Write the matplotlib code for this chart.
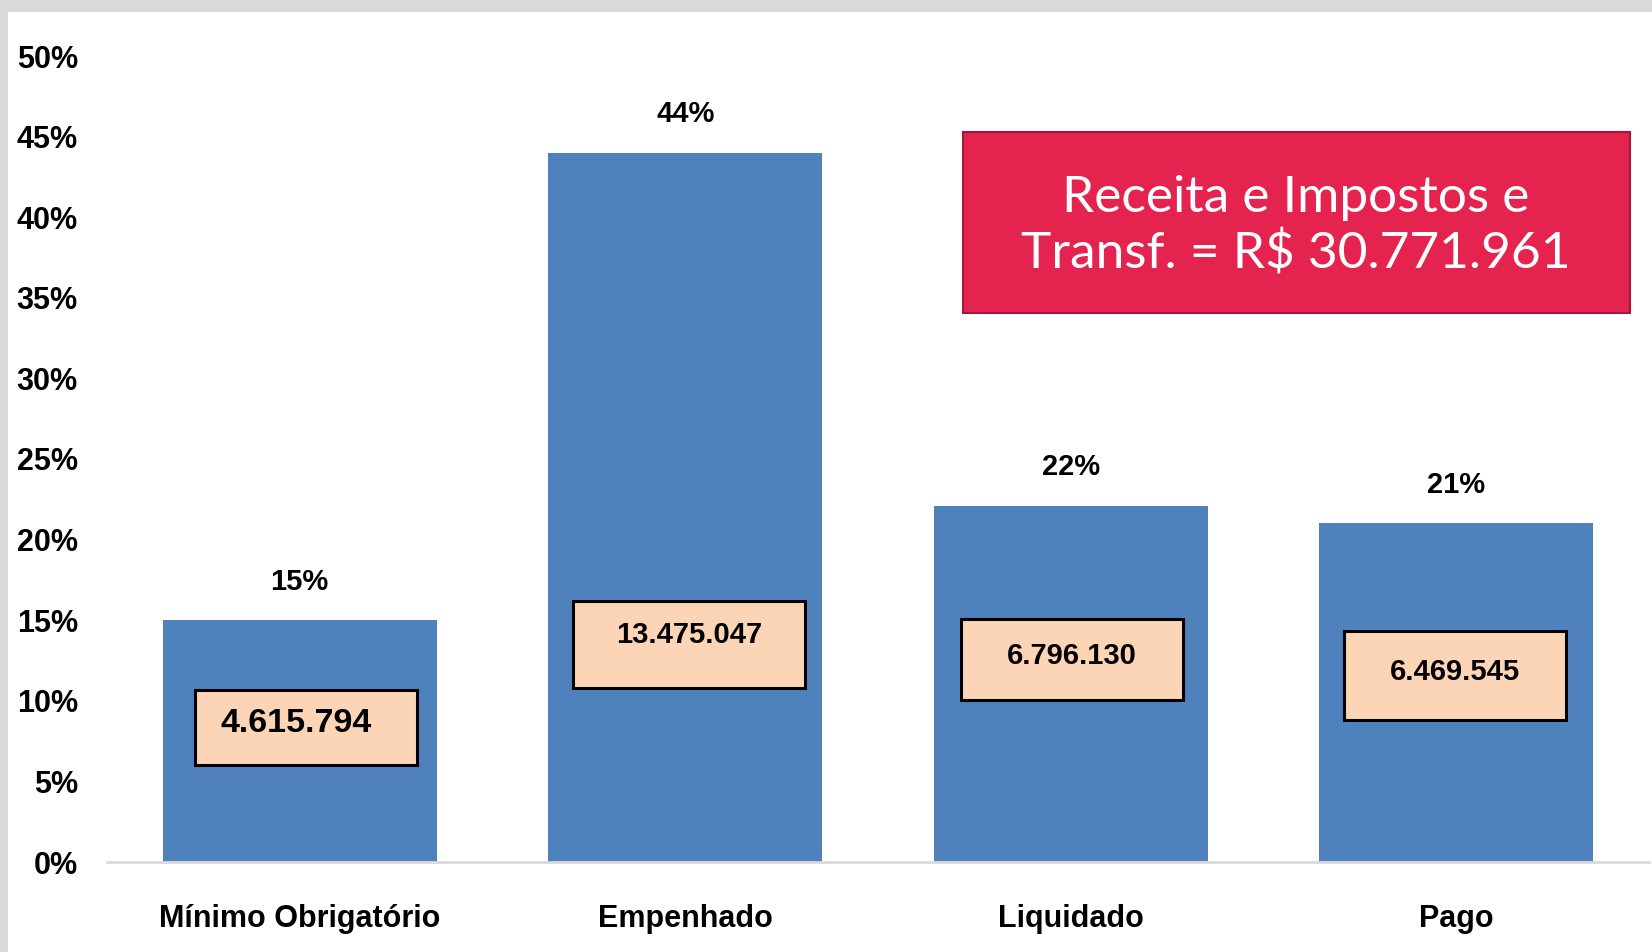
import matplotlib
matplotlib.use("Agg")
import matplotlib.pyplot as plt
from matplotlib.patches import Rectangle
from matplotlib.font_manager import fontManager

# ---- data ----
categories = ["Mínimo Obrigatório", "Empenhado", "Liquidado", "Pago"]
percent = [15.0, 44.0, 22.1, 21.0]
percent_labels = ["15%", "44%", "22%", "21%"]
amount_labels = ["4.615.794", "13.475.047", "6.796.130", "6.469.545"]
y_ticks = [0, 5, 10, 15, 20, 25, 30, 35, 40, 45, 50]
y_tick_labels = ["0%", "5%", "10%", "15%", "20%", "25%", "30%", "35%", "40%", "45%", "50%"]
note_text = "Receita e Impostos e\nTransf. = R$ 30.771.961"

# ---- fonts ----
names = {f.name for f in fontManager.ttflist}
has_narrow = "Liberation Sans Narrow" in names
narrow = ["Liberation Sans Narrow", "DejaVu Sans"] if has_narrow else ["Liberation Sans", "DejaVu Sans"]
k = 1.2 if has_narrow else 1.0   # narrower font can be taller
regular_bold = ["Liberation Sans", "DejaVu Sans"]
light = ["Lato", "Open Sans", "DejaVu Sans"]

W, H = 1652, 952
fig = plt.figure(figsize=(W / 100, H / 100), dpi=100, facecolor="#D9D9D9")
fig.patches.append(Rectangle((8 / W, 0), 1, 1 - 12 / H, transform=fig.transFigure,
                             facecolor="white", edgecolor="none", zorder=-5))

ax = fig.add_axes([107 / W, 1 - 862 / H, (1649 - 107) / W, (862 - 56) / H])
ax.set_facecolor("none")
ax.set_zorder(1)

x = list(range(len(categories)))
ax.bar(x, percent, width=0.71, color="#4F81BD", zorder=2)

ax.set_xlim(-0.5, len(categories) - 0.5)
ax.set_ylim(0, 50)
ax.set_yticks(y_ticks)
ax.set_yticklabels(y_tick_labels, family=narrow, fontweight="bold", fontsize=22 * k)
ax.set_xticks(x)
ax.set_xticklabels(categories, family=narrow, fontweight="bold", fontsize=22 * k)
ax.tick_params(axis="y", length=0, pad=21)
ax.tick_params(axis="x", length=0, pad=30)
for s in ["left", "right", "top"]:
    ax.spines[s].set_visible(False)
ax.spines["bottom"].set_color("#D9D9D9")
ax.spines["bottom"].set_linewidth(2)
ax.spines["bottom"].set_zorder(3)

# percentage labels above bars
for xi, v, lab in zip(x, percent, percent_labels):
    ax.text(xi, v + 2.4, lab, ha="center", va="center", family=narrow,
            fontweight="bold", fontsize=21 * k, zorder=4)

# amount boxes (layout)
box_cy = [8.35, 13.5, 12.55, 11.55]
box_h = [4.66, 5.35, 5.0, 5.5]
box_w = [0.575, 0.60, 0.575, 0.575]
box_dx = [0.017, 0.01, 0.003, -0.003]
text_dy = [0.25, 0.6, 0.2, 0.25]
box_font = [regular_bold, narrow, narrow, narrow]
for xi, lab, cy, h, w, dx, tdy, fam in zip(x, amount_labels, box_cy, box_h, box_w, box_dx, text_dy, box_font):
    cx = xi + dx
    ax.add_patch(Rectangle((cx - w / 2, cy - h / 2), w, h, facecolor="#FBD5B5",
                           edgecolor="black", linewidth=2.2, zorder=3))
    first = fam is regular_bold
    ax.text(cx - 0.027 if first else cx, cy + tdy, lab, ha="center", va="center",
            family=fam, fontweight="bold", fontsize=24.5 if first else 21 * k, zorder=4)

# red note box
fig.patches.append(Rectangle((963 / W, 1 - 313 / H), (1630 - 963) / W, (313 - 132) / H,
                             transform=fig.transFigure, facecolor="#E4234F",
                             edgecolor="#A3183B", linewidth=1.5, zorder=5))
fig.text(1296 / W, 1 - 226 / H, note_text, ha="center", va="center", color="white",
         family=light, fontweight="normal", fontsize=37, linespacing=1.26, zorder=6)

fig.savefig("out.png", dpi=100, facecolor=fig.get_facecolor())
